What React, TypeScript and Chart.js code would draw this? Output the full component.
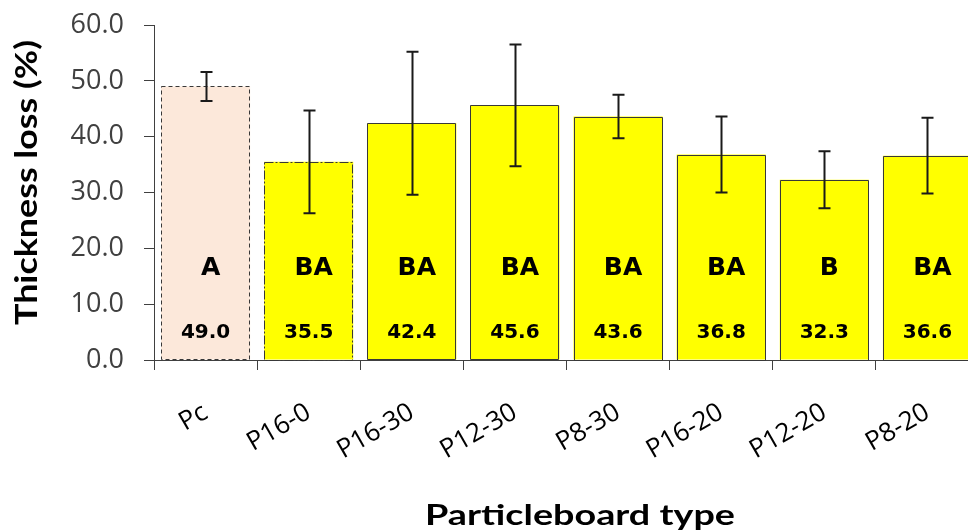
import React, { useEffect, useRef } from "react";
import { Chart, registerables } from "chart.js";

Chart.register(...registerables);

const categories = ["Pc", "P16-0", "P16-30", "P12-30", "P8-30", "P16-20", "P12-20", "P8-20"];
const meanLoss = [49.0, 35.5, 42.4, 45.6, 43.6, 36.8, 32.3, 36.6];
const errorLoss = [2.6, 9.2, 12.8, 10.9, 3.9, 6.8, 5.1, 6.8];
const groupLetters = ["A", "BA", "BA", "BA", "BA", "BA", "B", "BA"];
const yTicks = [0, 10, 20, 30, 40, 50, 60];

const fillColors = ["#FCE8DA", "#FFFF00", "#FFFF00", "#FFFF00", "#FFFF00", "#FFFF00", "#FFFF00", "#FFFF00"];
const borderDashes: number[][] = [[4, 3], [9, 2, 2, 2], [], [], [], [], [], []];

const CANVAS_W = 990;
const CANVAS_H = 531;

function fitText(ctx: any, text: string, font: string, cx: number, baseline: number, targetWidth: number, rotate: boolean) {
  ctx.save();
  ctx.font = font;
  const w = ctx.measureText(text).width;
  const sx = targetWidth / w;
  ctx.translate(cx, baseline);
  if (rotate) ctx.rotate(-Math.PI / 2);
  ctx.scale(sx, 1);
  ctx.textAlign = "center";
  ctx.textBaseline = "alphabetic";
  ctx.fillStyle = "#000";
  ctx.fillText(text, 0, 0);
  ctx.restore();
}

const overlayPlugin = {
  id: "overlay",
  afterDatasetsDraw(chart: any) {
    const ctx = chart.ctx;
    const meta = chart.getDatasetMeta(0);
    const y = chart.scales.y;
    ctx.save();
    meta.data.forEach((bar: any, i: number) => {
      const props = bar.getProps(["x", "y", "base", "width"], true);
      const left = props.x - props.width / 2;
      const right = props.x + props.width / 2;
      const top = props.y;
      const bottom = props.base;
      ctx.beginPath();
      ctx.setLineDash(borderDashes[i]);
      ctx.lineWidth = 1;
      ctx.strokeStyle = "#383838";
      ctx.rect(Math.round(left) + 0.5, Math.round(top) + 0.5, Math.round(right - left) - 1, Math.round(bottom - top));
      ctx.stroke();
      ctx.setLineDash([]);
      ctx.fillStyle = "#000";
      ctx.font = "bold 20px 'DejaVu Sans'";
      ctx.textAlign = "center";
      ctx.textBaseline = "middle";
      ctx.fillText(meanLoss[i].toFixed(1), props.x, y.getPixelForValue(4.8));
      ctx.font = "bold 25px 'DejaVu Sans'";
      ctx.fillText(groupLetters[i], props.x + 5, y.getPixelForValue(16.4));
    });
    meta.data.forEach((bar: any, i: number) => {
      const props = bar.getProps(["x"], true);
      const hi = y.getPixelForValue(meanLoss[i] + errorLoss[i]);
      const lo = y.getPixelForValue(meanLoss[i] - errorLoss[i]);
      const cx = Math.round(props.x) + 0.5;
      ctx.strokeStyle = "#1a1a1a";
      ctx.lineWidth = 2;
      ctx.beginPath();
      ctx.moveTo(cx, hi);
      ctx.lineTo(cx, lo);
      ctx.moveTo(cx - 6, hi);
      ctx.lineTo(cx + 6, hi);
      ctx.moveTo(cx - 6, lo);
      ctx.lineTo(cx + 6, lo);
      ctx.stroke();
    });
    ctx.restore();
    fitText(ctx, "Particleboard type", "bold 28px Lato", 580, 525, 310, false);
    fitText(ctx, "Thickness loss (%)", "bold 30px Lato", 37, 182.5, 285, true);
  },
};

export default function App() {
  const canvasRef = useRef<HTMLCanvasElement | null>(null);

  useEffect(() => {
    document.body.style.margin = "0";
    document.body.style.overflow = "hidden";
    const canvas = canvasRef.current;
    if (!canvas) return;
    const chart = new Chart(canvas, {
      type: "bar",
      data: {
        labels: categories,
        datasets: [
          {
            data: meanLoss,
            backgroundColor: fillColors,
            borderWidth: 0,
            categoryPercentage: 1,
            barPercentage: 0.864,
          },
        ],
      },
      options: {
        responsive: false,
        animation: false,
        devicePixelRatio: 1,
        layout: { padding: { left: 0, top: 25, right: CANVAS_W - 979, bottom: 0 } },
        plugins: { legend: { display: false }, tooltip: { enabled: false }, title: { display: false } },
        scales: {
          x: {
            offset: true,
            grid: {
              display: true,
              offset: true,
              drawOnChartArea: false,
              drawTicks: true,
              tickLength: 10,
              color: "#404040",
              lineWidth: 1,
            },
            border: { display: true, color: "#404040", width: 1 },
            ticks: {
              minRotation: 30,
              maxRotation: 30,
              padding: 27,
              color: "#000",
              font: { family: "'Open Sans'", size: 26 },
            },
            afterFit: (scale: any) => {
              scale.height = CANVAS_H - 360;
              scale.paddingLeft = 0;
              scale.paddingRight = 0;
            },
          },
          y: {
            min: 0,
            max: 60,
            afterBuildTicks: (scale: any) => {
              scale.ticks = yTicks.map((v) => ({ value: v }));
            },
            grid: {
              display: true,
              drawOnChartArea: false,
              drawTicks: true,
              tickLength: 10,
              color: "#404040",
              lineWidth: 1,
            },
            border: { display: true, color: "#404040", width: 1 },
            ticks: {
              padding: 20,
              color: "#404040",
              font: { family: "'Open Sans'", size: 27 },
              callback: (v: any) => Number(v).toFixed(1),
            },
            afterFit: (scale: any) => {
              scale.width = 154;
              scale.paddingTop = 0;
              scale.paddingBottom = 0;
            },
          },
        },
      },
      plugins: [overlayPlugin],
    });
    return () => chart.destroy();
  }, []);

  return (
    <div style={{ position: "fixed", left: 0, top: 0, width: 968, height: 531, overflow: "hidden", background: "#fff" }}>
      <canvas ref={canvasRef} width={CANVAS_W} height={CANVAS_H} style={{ width: CANVAS_W, height: CANVAS_H, display: "block" }} />
    </div>
  );
}
